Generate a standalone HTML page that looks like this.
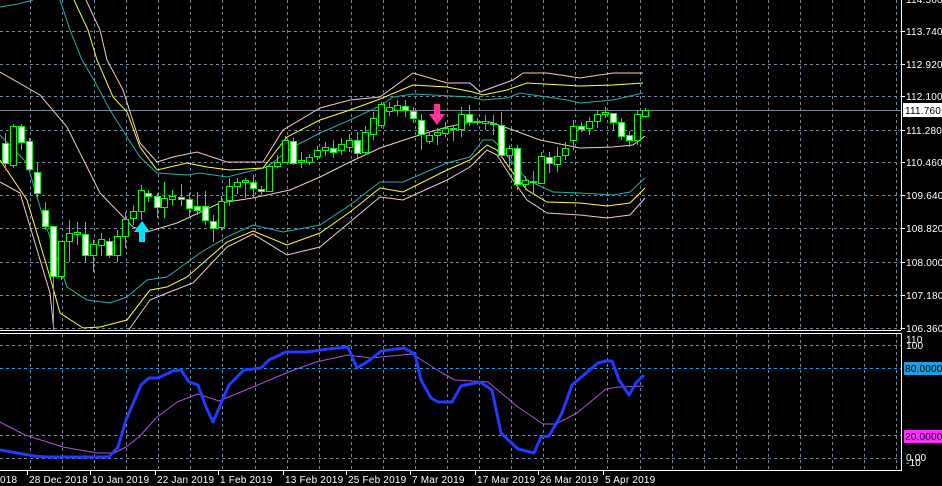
<!DOCTYPE html>
<html><head><meta charset="utf-8"><style>
html,body{margin:0;padding:0;background:#000;}
svg{display:block;font-family:"Liberation Sans",sans-serif;}
</style></head><body>
<svg id="s" width="942" height="486" viewBox="0 0 942 486" xmlns="http://www.w3.org/2000/svg">
<rect width="942" height="486" fill="#000"/>
<g id="grid" stroke="#778899" stroke-width="1" stroke-dasharray="3,3" fill="none"></g>
<line x1="0" y1="110.5" x2="901" y2="110.5" stroke="#778899" stroke-width="1"/>
<g id="bands" fill="none" stroke-width="1"></g>
<g id="candles"></g>
<g id="sub" fill="none"></g>
<polygon points="142,221 134,232 139,232 139,242 145,242 145,232 150,232" fill="#00e5ff"/>
<polygon points="437,125 429,114 434,114 434,104 440,104 440,114 445,114" fill="#ff3399"/>
<g stroke="#fff" stroke-width="1" fill="none">
<line x1="0" y1="330.5" x2="901" y2="330.5"/>
<line x1="0" y1="333.5" x2="901" y2="333.5"/>
<line x1="0" y1="470.5" x2="901.5" y2="470.5"/>
<line x1="901.5" y1="0" x2="901.5" y2="330"/>
<line x1="901.5" y1="333" x2="901.5" y2="471"/>
</g>
<g id="labels" fill="#fff" font-size="10" letter-spacing="0.2"></g>
</svg>
<script>
const NS="http://www.w3.org/2000/svg";
function el(p,t,a,txt){const e=document.createElementNS(NS,t);for(const k in a)e.setAttribute(k,a[k]);if(txt!==undefined)e.textContent=txt;p.appendChild(e);return e;}
const G=document.getElementById('grid');
for(let k=0;k<28;k++){const x=Math.round(30+32.08*k)+0.5;el(G,'line',{x1:x,y1:0,x2:x,y2:330});el(G,'line',{x1:x,y1:334,x2:x,y2:470});}
const py=[31,64,96,130,162,195,228,262,295,328];
py.forEach(y=>el(G,'line',{x1:0,y1:y+.5,x2:901,y2:y+.5}));
el(G,'line',{x1:0,y1:345.5,x2:901,y2:345.5});
el(G,'line',{x1:0,y1:458.5,x2:901,y2:458.5});
el(G,'line',{x1:0,y1:368.5,x2:901,y2:368.5,stroke:'#1ea0e0'});
el(G,'line',{x1:0,y1:435.5,x2:901,y2:435.5,stroke:'#ff40ff'});
const B=document.getElementById('bands');
function pl(pts,c,w){el(B,'polyline',{points:pts.map(p=>p.join(',')).join(' '),stroke:c,'stroke-width':w||1});}
const PINK='#f7c8c8',YEL='#ffff30',CY='#20b2aa';
pl([[0,72],[40,95],[67,127],[100,193],[133,227],[147,232],[177,223],[220,203],[253,198],[290,190],[320,177],[350,162],[380,148],[413,137],[447,127],[470,122],[490,122],[513,130],[540,140],[580,148],[613,147],[633,145],[645,136]],PINK);
pl([[0,7],[18,4],[33,0]],CY);
pl([[60,0],[70,30],[82,60],[94,80],[110,110],[127,137],[140,157],[157,173],[187,175],[200,173],[227,177],[267,167],[293,147],[320,133],[350,120],[380,106],[393,97],[413,94],[470,97],[483,100],[507,98],[520,93],[567,100],[580,103],[613,100],[643,93]],CY);
pl([[74,0],[88,30],[97,60],[113,97],[127,112],[140,147],[157,170],[187,163],[207,167],[230,170],[263,168],[287,137],[320,120],[350,110],[380,99],[413,85],[447,87],[473,92],[483,95],[507,90],[527,83],[580,86],[613,85],[643,83]],YEL);
pl([[86,0],[100,30],[107,60],[123,90],[140,143],[157,162],[173,157],[197,152],[227,162],[263,162],[283,130],[320,108],[350,100],[380,97],[413,73],[447,83],[470,83],[480,92],[513,80],[523,73],[547,73],[580,78],[613,73],[643,73]],PINK);
pl([[0,135],[27,163],[43,217],[67,287],[87,300],[110,303],[127,297],[147,280],[167,277],[200,253],[227,237],[253,225],[283,232],[320,225],[350,205],[380,182],[403,182],[447,163],[470,157],[483,140],[493,140],[500,147],[513,163],[527,180],[553,192],[580,193],[613,195],[630,192],[645,178]],CY);
pl([[0,160],[27,200],[50,277],[60,313],[83,328],[100,327],[127,320],[150,290],[167,287],[187,277],[227,242],[253,231],[287,245],[320,233],[350,212],[380,188],[403,192],[447,170],[470,160],[487,145],[497,150],[513,173],[527,190],[547,202],[580,203],[607,206],[630,203],[645,188]],YEL);
pl([[0,182],[20,193],[50,293],[54,331]],PINK);
pl([[128,331],[150,300],[167,293],[193,283],[227,247],[253,234],[287,255],[320,247],[350,222],[380,197],[403,200],[447,180],[470,167],[487,150],[497,155],[513,180],[527,200],[547,213],[580,215],[607,218],[630,215],[645,198]],PINK);
const C=[[5,143,163,133,170,1],[13,126,165,124,168,0],[21,126,142,124,150,1],[29,141,169,138,172,1],[37,172,193,162,198,1],[45,210,226,202,230,1],[53,226,276,226,330,1],[61,241,276,241,280,0],[69,233,241,220,262,0],[77,232,234,222,245,0],[85,234,255,222,262,1],[93,244,255,240,272,0],[101,239,245,233,256,0],[109,241,255,238,258,1],[117,236,255,230,262,0],[125,219,236,212,248,0],[133,211,218,205,225,0],[141,190,211,185,220,0],[148,193,196,190,202,1],[157,196,207,193,218,1],[164,198,207,182,218,0],[172,196,199,190,205,0],[181,197,199,184,206,1],[189,199,208,193,218,1],[197,206,210,192,215,1],[205,206,220,191,225,1],[213,221,228,215,242,1],[221,201,227,196,230,0],[229,186,200,178,206,0],[237,182,186,178,194,0],[245,180,182,178,198,0],[253,182,188,175,198,1],[261,189,191,186,195,1],[269,166,191,164,192,0],[277,162,166,155,168,0],[285,140,162,136,163,0],[293,141,163,138,165,1],[301,160,162,152,168,0],[309,157,162,154,165,0],[317,150,156,146,160,0],[325,147,150,142,156,0],[333,148,152,140,158,1],[341,144,150,138,155,0],[349,140,147,134,152,0],[357,140,153,132,158,1],[365,132,152,126,155,0],[373,118,134,112,140,0],[381,104,125,102,128,0],[389,107,111,102,116,0],[397,105,110,100,116,0],[405,106,110,100,117,1],[413,111,118,107,123,1],[421,120,134,114,150,1],[429,135,141,133,144,0],[437,132,135,128,145,0],[445,128,133,122,137,0],[453,128,129,125,141,0],[461,114,129,107,137,0],[469,114,122,105,126,1],[477,121,122,118,125,0],[485,121,123,115,130,0],[493,123,124,115,135,0],[501,125,155,112,158,1],[509,148,155,145,170,0],[517,148,184,145,190,1],[525,180,184,176,190,0],[533,181,182,171,193,0],[541,156,183,152,183,0],[549,157,163,152,173,1],[557,156,164,147,172,0],[565,148,155,142,160,0],[573,126,140,120,150,0],[581,126,129,122,132,1],[589,121,128,117,135,0],[597,114,121,110,128,0],[605,112,114,107,118,0],[613,113,122,113,130,1],[621,122,136,118,140,1],[629,135,140,131,147,1],[637,114,140,110,145,0],[645,110,116,108,118,0]];
const CG=document.getElementById('candles');
C.forEach(([x,t,b,wt,wb,w])=>{
 el(CG,'line',{x1:x+.5,y1:wt,x2:x+.5,y2:wb,stroke:'#00ff00','stroke-width':1});
 const h=Math.max(1,b-t);
 el(CG,'rect',{x:x-2.5,y:t+.5,width:6,height:h,fill:w?'#fff':'#000',stroke:'#00ff00','stroke-width':1});
});
const S=document.getElementById('sub');
function sp(pts,c,w){el(S,'polyline',{points:pts.map(p=>p.join(',')).join(' '),stroke:c,'stroke-width':w,'stroke-linejoin':'round'});}
sp([[0,422],[25,435],[63,447],[97,453],[114,453],[126,447],[139,437],[156,418],[177,402],[198,394],[219,401],[253,387],[286,373],[316,362],[348,355],[370,358],[412,354],[442,373],[455,380],[488,382],[518,407],[543,424],[556,424],[577,413],[606,389],[619,387],[644,386]],'#b050e0',1);
sp([[0,450],[34,456],[46,457],[109,457],[118,447],[126,420],[141,385],[149,378],[158,378],[173,371],[181,370],[189,382],[198,385],[206,407],[213,422],[229,385],[244,370],[261,368],[269,360],[286,352],[307,352],[328,349],[348,347],[357,368],[370,360],[381,351],[404,348],[415,354],[421,380],[431,398],[438,402],[452,402],[461,386],[480,382],[492,390],[501,433],[518,449],[534,453],[541,437],[549,436],[562,413],[572,385],[598,363],[606,361],[612,361],[619,380],[629,395],[636,383],[644,375]],'#1f3cff',3);
const L=document.getElementById('labels');
const pv=['113.740','112.920','112.100','111.280','110.460','109.640','108.820','108.000','107.180','106.360'];
py.forEach((y,i)=>{el(L,'line',{x1:901,y1:y+.5,x2:905,y2:y+.5,stroke:'#fff'});el(L,'text',{x:906,y:y+4},pv[i]);});
el(L,'text',{x:906,y:3},'114.560');
el(L,'rect',{x:903,y:103,width:39,height:14,fill:'#fff'});
el(L,'text',{x:905,y:114,fill:'#000'},'111.760');
el(L,'text',{x:906,y:343},'110');
el(L,'text',{x:906,y:349},'100');
el(L,'rect',{x:904,y:362,width:38,height:13,fill:'#1ea0e0'});
el(L,'text',{x:905,y:372,fill:'#000'},'80.0000');
el(L,'rect',{x:904,y:430,width:38,height:13,fill:'#ff30ff'});
el(L,'text',{x:905,y:440,fill:'#000'},'20.0000');
el(L,'text',{x:906,y:461},'0.00');
el(L,'text',{x:906,y:466},'-10');
const D=[[0,'018'],[29,'28 Dec 2018'],[92,'10 Jan 2019'],[157,'22 Jan 2019'],[220,'1 Feb 2019'],[285,'13 Feb 2019'],[348,'25 Feb 2019'],[412,'7 Mar 2019'],[477,'17 Mar 2019'],[540,'26 Mar 2019'],[605,'5 Apr 2019']];
D.forEach(([x,t])=>{el(L,'text',{x:x,y:483},t);if(x>0)el(L,'line',{x1:x-1.5,y1:470,x2:x-1.5,y2:475,stroke:'#fff'});});
</script>
</body></html>
